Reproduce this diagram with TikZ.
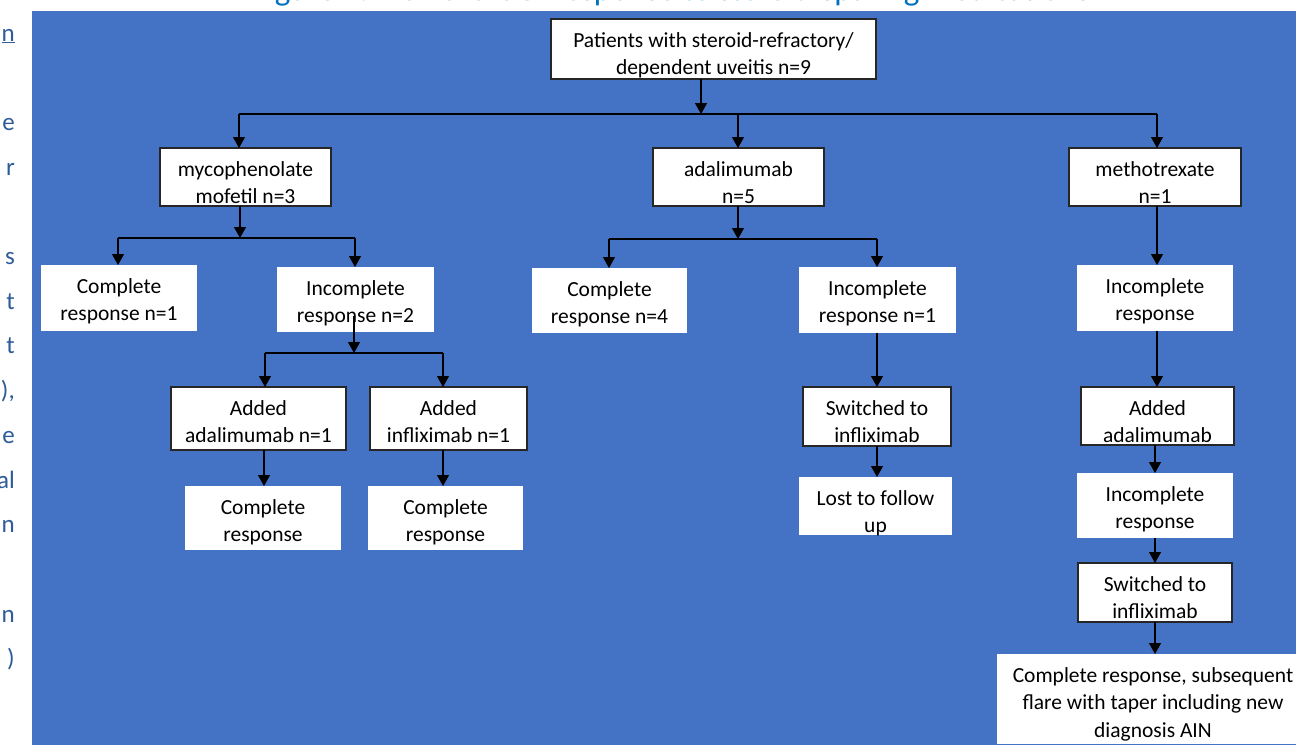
\documentclass[tikz,border=0pt]{standalone}
\usepackage{fontspec}
\setmainfont{Carlito}
\usetikzlibrary{arrows.meta}
\definecolor{bg}{HTML}{4472C4}
\definecolor{ttl}{HTML}{0070C0}
\definecolor{sidec}{HTML}{2E5C99}
\definecolor{edge}{HTML}{262626}
\begin{document}
\begin{tikzpicture}[x=1pt,y=-1pt,
  wbox/.style={fill=white,inner sep=0pt,outer sep=0pt},
  bbox/.style={wbox,draw=edge,line width=1.3pt},
  tl/.style={anchor=base,inner sep=0pt,font=\fontsize{21.5}{27}\selectfont},
  sidetxt/.style={anchor=base east,inner sep=0pt,text=sidec,font=\fontsize{25}{30}\selectfont},
  arr/.style={-{Triangle[width=12pt,length=11pt]},line width=1.2pt,draw=black},
  lin/.style={line width=1.2pt,draw=black}]
\useasboundingbox (0,0) rectangle (1296,745);
\clip (0,0) rectangle (1296,745);
\fill[white] (0,0) rectangle (1296,745);
\fill[bg] (32,11) rectangle (1296,745);
% clipped title and side text
\node[anchor=base west,inner sep=0pt,text=ttl,font=\fontsize{33}{40}\selectfont] (title) at (252,0.5) {Figure 1: Flowchart of response to steroid-sparing medications};
\foreach \k/\s in {0/{\underline{n}},2/e,3/r,5/s,6/t,7/t,8/{),},9/e,10/al,11/n,13/n,14/)}{
  \node[sidetxt] (side\k) at (15,{41+\k*44.7}) {\s};
}
% boxes
\node[bbox,minimum width=325,minimum height=60] (P) at (713.5,49) {};
\node[bbox,minimum width=171,minimum height=58] (M) at (245.5,177) {};
\node[bbox,minimum width=171,minimum height=58] (A) at (738.5,177) {};
\node[bbox,minimum width=172,minimum height=58] (X) at (1155,177) {};
\node[wbox,minimum width=156,minimum height=66] (C1) at (119,298) {};
\node[wbox,minimum width=157,minimum height=65] (I2) at (355.5,299.5) {};
\node[wbox,minimum width=155,minimum height=65] (C4) at (609.5,300.5) {};
\node[wbox,minimum width=157,minimum height=66] (I1) at (877.5,300) {};
\node[wbox,minimum width=156,minimum height=66] (IX) at (1155,298) {};
\node[bbox,minimum width=175,minimum height=63] (AA) at (258.5,418.5) {};
\node[bbox,minimum width=157,minimum height=63] (AI) at (448.5,418.5) {};
\node[bbox,minimum width=148,minimum height=59] (SI) at (877,416.5) {};
\node[bbox,minimum width=153,minimum height=58] (AX) at (1157.5,416) {};
\node[wbox,minimum width=156,minimum height=64] (CA) at (263,518) {};
\node[wbox,minimum width=155,minimum height=64] (CI) at (445.5,518) {};
\node[wbox,minimum width=153,minimum height=58] (L) at (875.5,506) {};
\node[wbox,minimum width=156,minimum height=65] (IX2) at (1155,505.5) {};
\node[bbox,minimum width=154,minimum height=59] (SX) at (1155,592.5) {};
\node[wbox,minimum width=312,minimum height=90] (F) at (1153,699) {};
% texts
\node[tl] (P-a) at (713.5,47) {Patients with steroid-refractory/};
\node[tl] (P-b) at (713.5,74.5) {dependent uveitis n=9};
\node[tl] (M-a) at (245.5,176) {mycophenolate};
\node[tl] (M-b) at (245.5,203.5) {mofetil n=3};
\node[tl] (A-a) at (738.5,176) {adalimumab};
\node[tl] (A-b) at (738.5,203.5) {n=5};
\node[tl] (X-a) at (1155,176) {methotrexate};
\node[tl] (X-b) at (1155,203.5) {n=1};
\node[tl] (C1-a) at (119,293) {Complete};
\node[tl] (C1-b) at (119,320.5) {response n=1};
\node[tl] (I2-a) at (355.5,295) {Incomplete};
\node[tl] (I2-b) at (355.5,322.5) {response n=2};
\node[tl] (C4-a) at (609.5,296) {Complete};
\node[tl] (C4-b) at (609.5,323.5) {response n=4};
\node[tl] (I1-a) at (877.5,295) {Incomplete};
\node[tl] (I1-b) at (877.5,322.5) {response n=1};
\node[tl] (IX-a) at (1155,293) {Incomplete};
\node[tl] (IX-b) at (1155,320.5) {response};
\node[tl] (AA-a) at (258.5,415) {Added};
\node[tl] (AA-b) at (258.5,442.5) {adalimumab n=1};
\node[tl] (AI-a) at (448.5,415) {Added};
\node[tl] (AI-b) at (448.5,442.5) {infliximab n=1};
\node[tl] (SI-a) at (877,415) {Switched to};
\node[tl] (SI-b) at (877,442.5) {infliximab};
\node[tl] (AX-a) at (1157.5,415) {Added};
\node[tl] (AX-b) at (1157.5,442.5) {adalimumab};
\node[tl] (CA-a) at (263,514) {Complete};
\node[tl] (CA-b) at (263,541.5) {response};
\node[tl] (CI-a) at (445.5,514) {Complete};
\node[tl] (CI-b) at (445.5,541.5) {response};
\node[tl] (L-a) at (875.5,505) {Lost to follow};
\node[tl] (L-b) at (875.5,532.5) {up};
\node[tl] (IX2-a) at (1155,501) {Incomplete};
\node[tl] (IX2-b) at (1155,528.5) {response};
\node[tl] (SX-a) at (1155,591) {Switched to};
\node[tl] (SX-b) at (1155,618.5) {infliximab};
\node[tl] (F-a) at (1153,682) {Complete response, subsequent};
\node[tl] (F-b) at (1153,709.5) {flare with taper including new};
\node[tl] (F-c) at (1153,737) {diagnosis AIN};
% connectors: level 1
\coordinate (j0) at (701,114);
\coordinate (jL) at (239,114);
\coordinate (jA) at (738,114);
\coordinate (jR) at (1157,114);
\draw[arr] (P.south -| j0) -- (j0);
\draw[lin] (jL) -- (jR);
\draw[arr] (jL) -- (jL |- M.north);
\draw[arr] (jA) -- (jA |- A.north);
\draw[arr] (jR) -- (jR |- X.north);
% mycophenolate branch
\coordinate (m0) at (240,238);
\coordinate (m1) at (118,238);
\coordinate (m2) at (355,238);
\draw[arr] (M.south -| m0) -- (m0);
\draw[lin] (m1) -- (m2);
\draw[arr] (m1) -- (m1 |- C1.north);
\draw[arr] (m2) -- (m2 |- I2.north);
\coordinate (i2s) at (354,316);
\coordinate (i0) at (354,353);
\coordinate (i1) at (265,353);
\coordinate (i2) at (443,353);
\draw[arr] (i2s) -- (i0);
\draw[lin] (i1) -- (i2);
\draw[arr] (i1) -- (i1 |- AA.north);
\draw[arr] (i2) -- (i2 |- AI.north);
\coordinate (aa) at (264,0);
\coordinate (ai) at (443,0);
\draw[arr] (AA.south -| aa) -- (aa |- CA.north);
\draw[arr] (AI.south -| ai) -- (ai |- CI.north);
% adalimumab branch
\coordinate (a0) at (738,239);
\coordinate (a1) at (609,239);
\coordinate (a2) at (877,239);
\draw[arr] (A.south -| a0) -- (a0);
\draw[lin] (a1) -- (a2);
\draw[arr] (a1) -- (a1 |- C4.north);
\draw[arr] (a2) -- (a2 |- I1.north);
\draw[arr] (I1.south -| a2) -- (a2 |- SI.north);
\draw[arr] (SI.south -| a2) -- (a2 |- L.north);
% methotrexate branch
\coordinate (xr) at (1157,0);
\coordinate (xs) at (1155,0);
\draw[arr] (X.south -| xr) -- (xr |- IX.north);
\draw[arr] (IX.south -| xr) -- (xr |- AX.north);
\draw[arr] (AX.south -| xs) -- (xs |- IX2.north);
\draw[arr] (IX2.south -| xs) -- (xs |- SX.north);
\draw[arr] (SX.south -| xs) -- (xs |- F.north);
\end{tikzpicture}
\end{document}
